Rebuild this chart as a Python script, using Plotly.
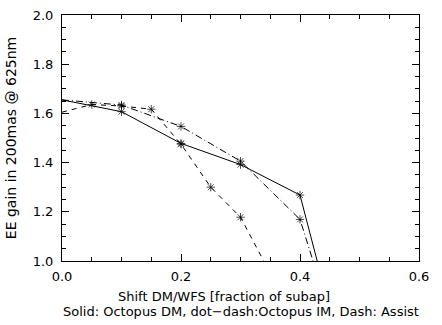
import plotly.graph_objects as go

# Data
x_dm = [0.0, 0.1, 0.2, 0.3, 0.4, 0.5]
y_dm = [1.655, 1.607, 1.478, 1.392, 1.268, 0.34]

x_im = [0.0, 0.1, 0.2, 0.3, 0.4, 0.5]
y_im = [1.655, 1.634, 1.547, 1.406, 1.169, 0.40]

x_as = [0.0, 0.05, 0.1, 0.15, 0.2, 0.25, 0.3, 0.35]
y_as = [1.605, 1.636, 1.63, 1.617, 1.475, 1.30, 1.178, 0.95]

x_ticks = [0.0, 0.2, 0.4, 0.6]
x_ticklabels = ["0.0", "0.2", "0.4", "0.6"]
y_ticks = [1.0, 1.2, 1.4, 1.6, 1.8, 2.0]
y_ticklabels = ["1.0", "1.2", "1.4", "1.6", "1.8", "2.0"]

FONT = "DejaVu Sans"


def marker_for(xs):
    # symbols centred on the left frame edge are not drawn in the reference
    return dict(symbol="asterisk-open", size=[0 if v <= 0 else 7 for v in xs],
                color="black", line=dict(color="black", width=1))


fig = go.Figure()
fig.add_trace(go.Scatter(x=x_dm, y=y_dm, mode="lines+markers",
                         line=dict(color="black", width=1, dash="solid"), marker=marker_for(x_dm),
                         name="Octopus DM"))
fig.add_trace(go.Scatter(x=x_im, y=y_im, mode="lines+markers",
                         line=dict(color="black", width=1, dash="7px,3px,1px,3px"), marker=marker_for(x_im),
                         name="Octopus IM"))
fig.add_trace(go.Scatter(x=x_as, y=y_as, mode="lines+markers",
                         line=dict(color="black", width=1, dash="5px,5px"), marker=marker_for(x_as),
                         name="Assist"))

axis_common = dict(
    showline=True, linecolor="black", linewidth=1, mirror="allticks",
    ticks="inside", ticklen=7, tickwidth=1, tickcolor="black",
    showgrid=False, zeroline=False,
    tickfont=dict(family=FONT, size=13, color="black"),
    ticklabeloverflow="allow",
    minor=dict(ticks="inside", ticklen=4, tickwidth=1, tickcolor="black", dtick=0.05, showgrid=False),
)

fig.update_layout(
    width=442, height=325,
    margin=dict(l=62, r=23, t=8, b=64),
    paper_bgcolor="white", plot_bgcolor="white",
    showlegend=False,
    font=dict(family=FONT, size=13, color="black"),
    xaxis=dict(range=[0, 0.6], tickvals=x_ticks, ticktext=x_ticklabels,
               ticklabelstandoff=3, **axis_common),
    yaxis=dict(range=[1.0, 2.0], tickvals=y_ticks, ticktext=y_ticklabels,
               ticklabelstandoff=5,
               title=dict(text="EE gain in 200mas @ 625nm", font=dict(family=FONT, size=14), standoff=12),
               **axis_common),
    annotations=[
        dict(text="Shift DM/WFS [fraction of subap]", xref="paper", yref="paper",
             x=0.454, y=0, yanchor="middle", yshift=-35, showarrow=False,
             font=dict(family=FONT, size=13, color="black")),
        dict(text="Solid: Octopus DM, dot\u2212dash:Octopus IM, Dash: Assist", xref="paper", yref="paper",
             x=0.5, xanchor="center", xshift=0, y=0, yanchor="middle", yshift=-50, showarrow=False,
             font=dict(family=FONT, size=13, color="black")),
    ],
)

fig.write_html("out.html")
